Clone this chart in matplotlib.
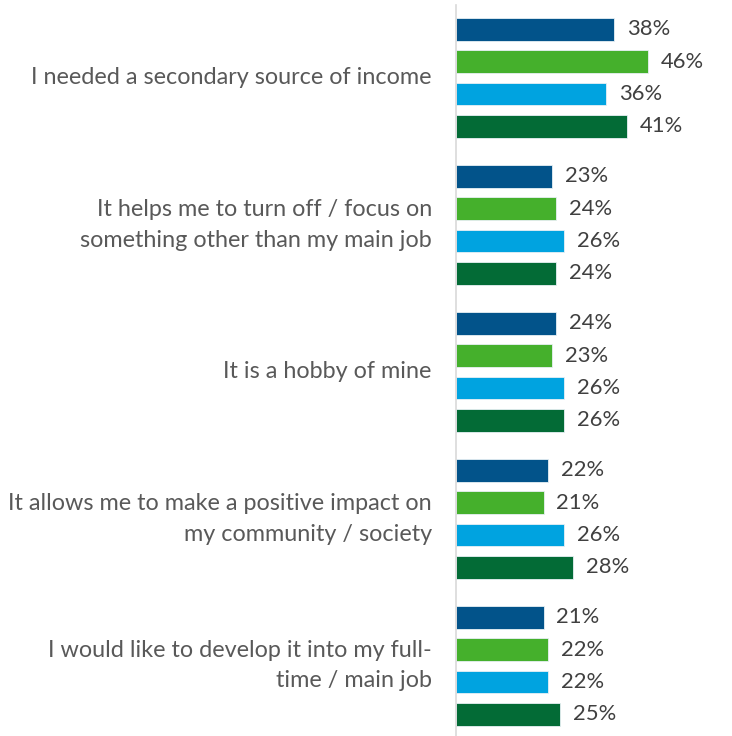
import matplotlib.pyplot as plt
import numpy as np

categories = [
    "I needed a secondary source of income",
    "It helps me to turn off / focus on\nsomething other than my main job",
    "It is a hobby of mine",
    "It allows me to make a positive impact on\nmy community / society",
    "I would like to develop it into my full-\ntime / main job",
]
series_a = [38, 23, 24, 22, 21]
series_b = [46, 24, 23, 21, 22]
series_c = [36, 26, 26, 26, 22]
series_d = [41, 24, 26, 28, 25]
colors = ["#02538A", "#45B02C", "#00A3E0", "#036B36"]

plt.rcParams["font.family"] = ["Lato", "DejaVu Sans"]


def main():
    fig = plt.figure(figsize=(7.32, 7.36), dpi=100)
    ax = fig.add_axes([456 / 732, 0, 1 - 456 / 732, 1 - 5 / 736])

    group_step = 4.55
    all_series = [series_a, series_b, series_c, series_d]
    for b, (vals, col) in enumerate(zip(all_series, colors)):
        ys = np.arange(len(categories)) * group_step + b
        ax.barh(ys, vals, height=0.7, color=col, edgecolor="#e8f0f4", linewidth=0.6)
        for y, v in zip(ys, vals):
            ax.text(v + 3.1, y, f"{v}%", va="center", ha="left",
                    fontsize=15.8, color="#404040")

    centers = np.arange(len(categories)) * group_step + 1.5
    for y, lab in zip(centers, categories):
        ax.text(-5.8, y, lab, ha="right", va="center", fontsize=16.8,
                color="#595959", linespacing=1.55)

    ax.set_xlim(0, (732 - 456) / 4.17)
    ax.set_ylim((736 - 29.5) / 32.3, -24.5 / 32.3)
    ax.set_xticks([])
    ax.set_yticks([])
    for s in ["top", "right", "bottom"]:
        ax.spines[s].set_visible(False)
    ax.spines["left"].set_color("#d9d9d9")
    ax.spines["left"].set_linewidth(1.2)

    fig.savefig("out.png", dpi=100)


if __name__ == "__main__":
    main()
